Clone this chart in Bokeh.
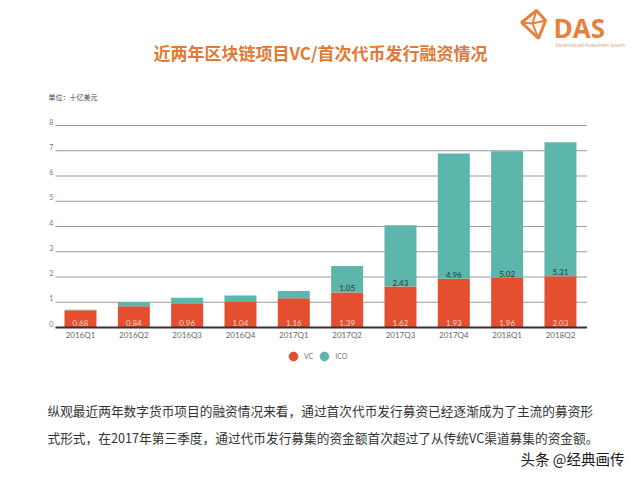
from bokeh.plotting import figure
from bokeh.models import (Range1d, ColumnDataSource, Label, Legend, LegendItem,
                          PolyAnnotation)
from bokeh.core.properties import value
from bokeh.embed import file_html
from bokeh.resources import INLINE

# ---------------- data ----------------
quarters = ["2016Q1", "2016Q2", "2016Q3", "2016Q4", "2017Q1",
            "2017Q2", "2017Q3", "2017Q4", "2018Q1", "2018Q2"]
vc = [0.68, 0.84, 0.96, 1.04, 1.16, 1.39, 1.62, 1.93, 1.96, 2.03]
ico = [0.02, 0.17, 0.22, 0.23, 0.29, 1.05, 2.43, 4.96, 5.02, 5.31]
ico_labels = ["", "", "", "", "", "1.05", "2.43", "4.96", "5.02", "5.31"]
y_ticks = [0, 1, 2, 3, 4, 5, 6, 7, 8]

title_text = "近两年区块链项目VC/首次代币发行融资情况"
unit_text = "单位：十亿美元"
para1 = "纵观最近两年数字货币项目的融资情况来看，通过首次代币发行募资已经逐渐成为了主流的募资形"
para2 = "式形式，在2017年第三季度，通过代币发行募集的资金额首次超过了从传统VC渠道募集的资金额。"
watermark = "头条 @经典画传"

RED = "#E4502F"
TEAL = "#5DB6AB"
ORANGE = "#E07A35"
CJK = "Noto Sans CJK SC"

# --------- reference-pixel helpers (for decorative text placement) ---------
X0, PX = 53.33, 53.33   # x data 0 at ref px 53.33, 53.33 px per unit
Y0, PY = 327.0, 25.25   # y data 0 at ref px 327, 25.25 px per unit
def dx(rx): return (rx - X0) / PX
def dy(ry): return (Y0 - ry) / PY

xs = [i + 0.5 for i in range(len(quarters))]
src = ColumnDataSource(dict(x=xs, vc=vc, ico=ico, q=quarters,
                            vcl=["%.2f" % v for v in vc], icol=ico_labels,
                            zero=[0] * len(vc)))

p = figure(width=640, height=480, output_backend="svg", toolbar_location=None,
           x_range=Range1d(dx(0), dx(640)), y_range=Range1d(dy(480), dy(0)),
           x_axis_location=None, y_axis_location=None, min_border=0)
p.outline_line_color = None
p.grid.visible = False
p.background_fill_color = "white"

# gridlines
gsrc = ColumnDataSource(dict(y=y_ticks[1:], x0=[dx(55)] * 8, x1=[10.0] * 8))
p.segment(x0="x0", x1="x1", y0="y", y1="y", source=gsrc, line_color="#9a9a9a", line_width=1)

# bars
p.vbar_stack(["vc", "ico"], x="x", width=0.6, color=[RED, TEAL], source=src, line_color=None)

# baseline
p.segment(x0=[dx(55)], x1=[10.0], y0=[0], y1=[0], line_color="#333333", line_width=2)

# y labels
ysrc = ColumnDataSource(dict(y=y_ticks, lab=[str(t) for t in y_ticks], x=[-0.01] * len(y_ticks)))
p.text(x="x", y="y", text="lab", source=ysrc, text_align="right", text_baseline="bottom",
       y_offset=-1, text_font_size="7px", text_color="#777777", text_font=value("Lato"))

# x tick labels
p.text(x="x", y="zero", text="q", source=src, text_align="center", text_baseline="middle",
       y_offset=7.5, text_font_size="8px", text_color="#666666", text_font=value("Lato"))

# value labels
p.text(x="x", y="zero", text="vcl", source=src, text_align="center", text_baseline="middle",
       y_offset=-4.5, text_font_size="8px", text_color="#F6D6CC", text_font=value("Lato"))
p.text(x="x", y="vc", text="icol", source=src, text_align="center", text_baseline="bottom",
       y_offset=-1, text_font_size="8px", text_color="#1E3A3A", text_font=value("Lato"))

# legend (circles)
r_vc = p.scatter(x=[-50], y=[-50], marker="circle", size=9, color=RED)
r_ico = p.scatter(x=[-50], y=[-50], marker="circle", size=9, color=TEAL)
leg = Legend(items=[LegendItem(label="VC", renderers=[r_vc]),
                    LegendItem(label="ICO", renderers=[r_ico])],
             orientation="horizontal", location=(282, 113), border_line_color=None,
             background_fill_alpha=0, label_text_font_size="7px", label_text_color="#777777",
             glyph_width=22, glyph_height=22, label_height=22, label_width=8,
             padding=0, margin=0, spacing=0, label_standoff=0, label_text_font="Lato")
p.add_layout(leg)

# title & texts
def lab(text, rx, ry, size, color, align="left", style="normal", font=CJK, base="middle"):
    p.add_layout(Label(x=dx(rx), y=dy(ry), text=text, text_font_size=size, text_color=color,
                       text_align=align, text_baseline=base, text_font_style=style,
                       text_font=font))

lab(title_text, 320, 52, "17px", ORANGE, align="center", style="bold")
lab(unit_text, 48, 96, "7px", "#444444")
lab("DAS", 553, 27, "26px", "#E8803A", style="bold", font="Open Sans")
lab("Decentralized Assessment System", 555, 44, "4.4px", "#C9A080", font="Open Sans")
lab(para1, 47, 410, "12.7px", "#333333")
lab(para2, 47, 437, "12.7px", "#333333")
lab(watermark, 520, 458, "14.5px", "#1A1A1A")

# logo icon
ic_x = [521, 536, 545, 538]
ic_y = [22, 10, 20, 38]
p.add_layout(PolyAnnotation(xs=[dx(v) for v in ic_x], ys=[dy(v) for v in ic_y],
                            fill_alpha=0, line_color="#E8803A", line_alpha=1, line_width=3))
p.add_layout(PolyAnnotation(xs=[dx(521), dx(532), dx(545), dx(532)],
                            ys=[dy(22), dy(23), dy(20), dy(23)],
                            fill_alpha=0, line_color="#E8803A", line_alpha=1, line_width=2))
p.add_layout(PolyAnnotation(xs=[dx(536), dx(532), dx(538), dx(532)],
                            ys=[dy(10), dy(23), dy(38), dy(23)],
                            fill_alpha=0, line_color="#E8803A", line_alpha=1, line_width=2))

open("out.html", "w").write(file_html(p, INLINE))
